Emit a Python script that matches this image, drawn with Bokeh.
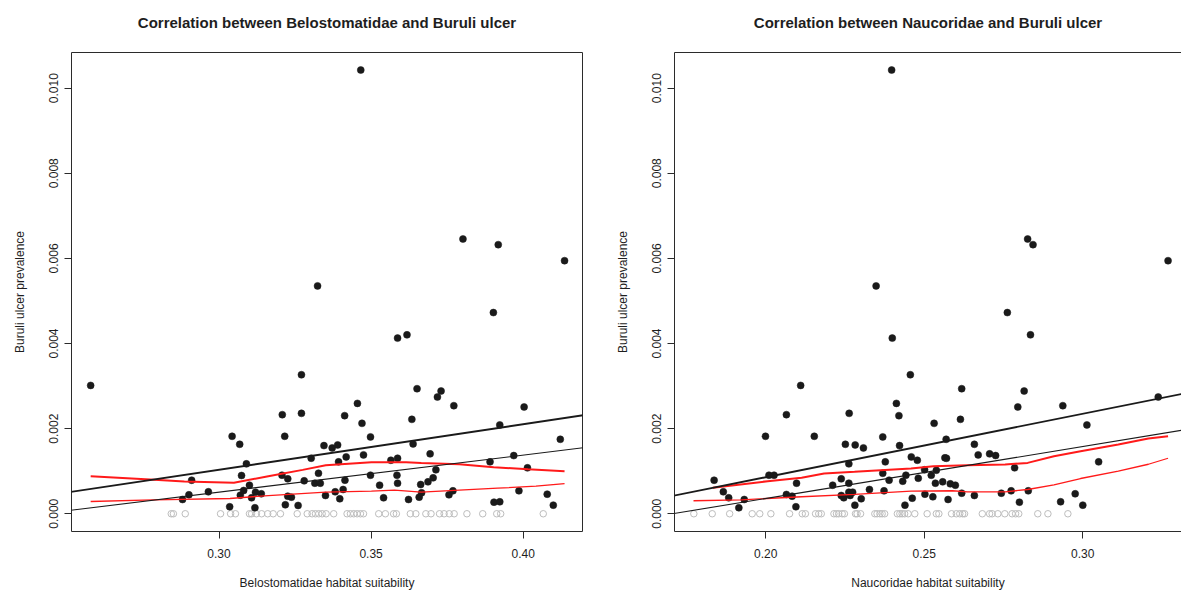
from bokeh.plotting import figure
from bokeh.layouts import row
from bokeh.models import (Range1d, LinearAxis, FixedTicker, NumeralTickFormatter, Slope)
from bokeh.embed import file_html
from bokeh.resources import INLINE

# ---------------- data: Belostomatidae panel ----------------
belo_pos_x = [0.2578, 0.3043, 0.3068, 0.3090, 0.3074, 0.2910, 0.2901, 0.2880, 0.2965, 0.3035,
              0.3070, 0.3081, 0.3100,
              0.3271, 0.3208, 0.3271, 0.3216, 0.3207, 0.3226, 0.3120, 0.3139, 0.3107, 0.3118,
              0.3226, 0.3238, 0.3218, 0.3260, 0.3280, 0.3303, 0.3315, 0.3333, 0.3327, 0.3345,
              0.3372, 0.3390, 0.3393, 0.3418, 0.3413, 0.3455, 0.3470, 0.3498, 0.3475, 0.3498,
              0.3414, 0.3382, 0.3408, 0.3397, 0.3350, 0.3528, 0.3541, 0.3587, 0.3618, 0.3651,
              0.3634, 0.3638, 0.3565, 0.3587, 0.3585, 0.3587, 0.3623, 0.3663, 0.3658, 0.3666,
              0.3902, 0.3730, 0.3718, 0.3772, 0.4003, 0.3923, 0.4122, 0.3694, 0.3969, 0.3891,
              0.4014, 0.3713, 0.3704, 0.3687, 0.3756, 0.3769, 0.3904, 0.3923, 0.3986, 0.4079,
              0.4099,
              0.3466, 0.3324, 0.3802, 0.3918, 0.4136]
belo_pos_y = [0.003015, 0.001820, 0.001632, 0.001172, 0.000898, 0.000788, 0.000445, 0.000335, 0.000516, 0.000164,
              0.000436, 0.000546, 0.000671,
              0.003266, 0.002328, 0.002359, 0.001820, 0.000905, 0.000820, 0.000507, 0.000469, 0.000375, 0.000141,
              0.000413, 0.000390, 0.000211, 0.000195, 0.000774, 0.001304, 0.000718, 0.000718, 0.000952, 0.001601,
              0.001547, 0.001617, 0.001219, 0.001336, 0.002305, 0.002593, 0.002124, 0.001805, 0.001383, 0.000905,
              0.000788, 0.000516, 0.000570, 0.000352, 0.000429, 0.000671, 0.000375, 0.004127, 0.004204, 0.002938,
              0.002218, 0.001641, 0.001257, 0.001304, 0.000905, 0.000718, 0.000335, 0.000687, 0.000390, 0.000492,
              0.004727, 0.002884, 0.002743, 0.002539, 0.002509, 0.002087, 0.001749, 0.001407, 0.001367, 0.001219,
              0.001079, 0.001032, 0.000844, 0.000750, 0.000445, 0.000539, 0.000272, 0.000281, 0.000539, 0.000460,
              0.000202,
              0.010425, 0.005353, 0.006455, 0.006322, 0.005946]
belo_zero_x = [0.2843, 0.2850, 0.2889, 0.3005, 0.3038, 0.3054, 0.3100, 0.3107, 0.3123, 0.3140,
               0.3160, 0.3178, 0.3202, 0.3257, 0.3290, 0.3306, 0.3317, 0.3328, 0.3339, 0.3352,
               0.3377, 0.3421, 0.3432, 0.3443, 0.3454, 0.3465, 0.3475, 0.3525, 0.3547, 0.3574,
               0.3583, 0.3629, 0.3647, 0.3680, 0.3697, 0.3725, 0.3740, 0.3757, 0.3773, 0.3815,
               0.3867, 0.3913, 0.3926, 0.4066]
belo_zero_y = [0.0] * len(belo_zero_x)
belo_upper_x = [0.2578, 0.2773, 0.2886, 0.3049, 0.3162, 0.3275, 0.3351, 0.3501, 0.3615, 0.3665, 0.3790, 0.3903, 0.4016, 0.4136]
belo_upper_y = [0.000882, 0.000804, 0.000757, 0.000726, 0.000882, 0.001031, 0.001140, 0.001210, 0.001210, 0.001195, 0.001164, 0.001094, 0.001047, 0.001000]
belo_lower_x = [0.2578, 0.2785, 0.3036, 0.3162, 0.3351, 0.3501, 0.3577, 0.3665, 0.3790, 0.3916, 0.4042, 0.4136]
belo_lower_y = [0.000288, 0.000327, 0.000358, 0.000428, 0.000507, 0.000530, 0.000554, 0.000507, 0.000554, 0.000600, 0.000648, 0.000710]
belo_gradient = [0.01069, 0.00871]
belo_intercept = [-0.002173, -0.002106]

# ---------------- data: Naucoridae panel ----------------
nauc_pos_x = [0.2110, 0.2065, 0.1999, 0.2153, 0.2263, 0.2251, 0.2262, 0.1837, 0.2010, 0.2026,
              0.1866, 0.1883, 0.1915, 0.1932, 0.2097, 0.2065, 0.2083, 0.2095, 0.2211, 0.2238,
              0.2262, 0.2238, 0.2246, 0.2262,
              0.2762, 0.2399, 0.2456, 0.2618, 0.2412, 0.2420, 0.2531, 0.2614, 0.2795, 0.2369,
              0.2282, 0.2308, 0.2422, 0.2569, 0.2658, 0.2377, 0.2459, 0.2478, 0.2565, 0.2570,
              0.2670, 0.2706, 0.2725, 0.2785, 0.2369, 0.2501, 0.2522, 0.2538, 0.2442, 0.2389,
              0.2432, 0.2481, 0.2535, 0.2558, 0.2582, 0.2598, 0.2327, 0.2373, 0.2274, 0.2266,
              0.2301, 0.2281, 0.2439, 0.2462, 0.2502, 0.2527, 0.2575, 0.2618, 0.2658, 0.2743,
              0.2774, 0.2800,
              0.2835, 0.2815, 0.2937, 0.3238, 0.3013, 0.3050, 0.2828, 0.2930, 0.2976, 0.3000,
              0.2397, 0.2348, 0.2826, 0.2843, 0.3269]
nauc_pos_y = [0.003015, 0.002328, 0.001820, 0.001820, 0.002359, 0.001632, 0.001172, 0.000788, 0.000905, 0.000905,
              0.000516, 0.000375, 0.000141, 0.000335, 0.000718, 0.000453, 0.000413, 0.000164, 0.000671, 0.000820,
              0.000718, 0.000429, 0.000375, 0.000507,
              0.004727, 0.004127, 0.003266, 0.002938, 0.002593, 0.002305, 0.002124, 0.002218, 0.002509, 0.001805,
              0.001617, 0.001547, 0.001601, 0.001749, 0.001632, 0.001219, 0.001336, 0.001257, 0.001313, 0.001304,
              0.001383, 0.001407, 0.001367, 0.001079, 0.000952, 0.001032, 0.000905, 0.001022, 0.000905, 0.000788,
              0.000765, 0.000835, 0.000718, 0.000750, 0.000703, 0.000671, 0.000570, 0.000539, 0.000507, 0.000429,
              0.000352, 0.000202, 0.000202, 0.000366, 0.000460, 0.000398, 0.000335, 0.000483, 0.000429, 0.000483,
              0.000539, 0.000272,
              0.004204, 0.002884, 0.002539, 0.002743, 0.002087, 0.001219, 0.000539, 0.000281, 0.000469, 0.000202,
              0.010425, 0.005353, 0.006455, 0.006322, 0.005946]
nauc_zero_x = [0.1773, 0.1831, 0.1886, 0.1957, 0.1981, 0.2016, 0.2075, 0.2115, 0.2125, 0.2157,
               0.2167, 0.2175, 0.2215, 0.2223, 0.2230, 0.2241, 0.2248,
               0.2283, 0.2288, 0.2299, 0.2344, 0.2351, 0.2360, 0.2367, 0.2375, 0.2415, 0.2423,
               0.2430, 0.2438, 0.2449, 0.2470, 0.2509, 0.2538, 0.2546, 0.2586, 0.2601, 0.2612,
               0.2621, 0.2627, 0.2683, 0.2706, 0.2714, 0.2732, 0.2754, 0.2777, 0.2788, 0.2798,
               0.2858, 0.2890, 0.2953]
nauc_zero_y = [0.0] * len(nauc_zero_x)
nauc_upper_x = [0.1833, 0.2006, 0.2113, 0.2184, 0.2280, 0.2458, 0.2529, 0.2636, 0.2755, 0.2826, 0.2909, 0.2993, 0.3112, 0.3207, 0.3269]
nauc_upper_y = [0.000610, 0.000765, 0.000844, 0.000945, 0.000985, 0.001062, 0.001116, 0.001140, 0.001156, 0.001195, 0.001351, 0.001468, 0.001625, 0.001766, 0.001820]
nauc_lower_x = [0.1772, 0.1923, 0.2113, 0.2280, 0.2458, 0.2589, 0.2636, 0.2755, 0.2826, 0.2909, 0.2993, 0.3112, 0.3207, 0.3269]
nauc_lower_y = [0.000305, 0.000328, 0.000399, 0.000453, 0.000530, 0.000540, 0.000516, 0.000516, 0.000570, 0.000680, 0.000828, 0.000999, 0.001163, 0.001304]
nauc_gradient = [0.01491, 0.01221]
nauc_intercept = [-0.002124, -0.002083]

y_ticks = [0.000, 0.002, 0.004, 0.006, 0.008, 0.010]
belo_x_ticks = [0.30, 0.35, 0.40]
nauc_x_ticks = [0.20, 0.25, 0.30]

FONT = "Liberation Sans"
BOX = "#2b2b2b"
TXT = "#1e1e1e"
Y_RANGE = (-0.000417, 0.010837)


def border_axis(label=None):
    ax = LinearAxis(ticker=FixedTicker(ticks=[]), axis_line_color=BOX, axis_line_width=1,
                    major_tick_out=0, major_tick_in=0, minor_tick_out=0, minor_tick_in=0,
                    major_label_text_font_size="0px", major_label_standoff=0)
    if label:
        ax.axis_label = label
        ax.axis_label_standoff = 22
        ax.axis_label_text_font = FONT
        ax.axis_label_text_font_style = "bold"
        ax.axis_label_text_font_size = "15px"
        ax.axis_label_text_color = TXT
    return ax


def make_panel(title, xlabel, xr, xticks, pos_x, pos_y, zero_x, zero_y,
               up_x, up_y, lo_x, lo_y, grads, icepts, width, mb_left, mb_right, right_border):
    p = figure(width=width, height=592, output_backend="svg", toolbar_location=None,
               x_range=Range1d(*xr), y_range=Range1d(*Y_RANGE),
               min_border_left=mb_left, min_border_right=mb_right,
               min_border_top=52, min_border_bottom=60,
               x_axis_label=xlabel, y_axis_label="Buruli ulcer prevalence")
    p.outline_line_color = None
    p.background_fill_color = "white"
    p.border_fill_color = "white"
    p.xgrid.visible = False
    p.ygrid.visible = False

    for ax in (p.xaxis[0], p.yaxis[0]):
        ax.axis_line_color = BOX
        ax.major_tick_line_color = BOX
        ax.major_tick_out = 7
        ax.major_tick_in = 0
        ax.minor_tick_out = 0
        ax.minor_tick_in = 0
        ax.major_label_text_font = FONT
        ax.major_label_text_font_size = "12px"
        ax.major_label_text_color = TXT
        ax.axis_label_text_font = FONT
        ax.axis_label_text_font_size = "12px"
        ax.axis_label_text_font_style = "normal"
        ax.axis_label_text_color = TXT

    p.xaxis.ticker = FixedTicker(ticks=xticks)
    p.xaxis.formatter = NumeralTickFormatter(format="0.00")
    p.xaxis.major_label_standoff = 10
    p.xaxis.axis_label_standoff = 15

    p.yaxis.ticker = FixedTicker(ticks=y_ticks)
    p.yaxis.formatter = NumeralTickFormatter(format="0.000")
    p.yaxis.major_label_orientation = "vertical"
    p.yaxis.major_label_standoff = 6
    p.yaxis.axis_label_standoff = 20

    # top border of the box, carrying the panel title
    p.add_layout(border_axis(title), "above")
    if right_border:
        p.add_layout(border_axis(), "right")

    p.scatter(zero_x, zero_y, size=6.5, marker="circle", fill_color=None,
              line_color="#bdbdbd", line_width=1)
    p.scatter(pos_x, pos_y, size=7, marker="circle", fill_color="#1a1a1a",
              line_color="#1a1a1a", line_width=0.5)

    p.add_layout(Slope(gradient=grads[0], y_intercept=icepts[0], line_color="#1a1a1a", line_width=1.9))
    p.add_layout(Slope(gradient=grads[1], y_intercept=icepts[1], line_color="#1a1a1a", line_width=1.1))

    p.line(up_x, up_y, line_color="#ff1a1a", line_width=2)
    p.line(lo_x, lo_y, line_color="#ff1a1a", line_width=1.3)
    return p


p1 = make_panel("Correlation between Belostomatidae and Buruli ulcer",
                "Belostomatidae habitat suitability", (0.2515, 0.4195), belo_x_ticks,
                belo_pos_x, belo_pos_y, belo_zero_x, belo_zero_y,
                belo_upper_x, belo_upper_y, belo_lower_x, belo_lower_y,
                belo_gradient, belo_intercept, 608, 71, 26, True)

p2 = make_panel("Correlation between Naucoridae and Buruli ulcer",
                "Naucoridae habitat suitability", (0.1712, 0.33114), nauc_x_ticks,
                nauc_pos_x, nauc_pos_y, nauc_zero_x, nauc_zero_y,
                nauc_upper_x, nauc_upper_y, nauc_lower_x, nauc_lower_y,
                nauc_gradient, nauc_intercept, 573, 66, 0, False)

layout = row(p1, p2)
open("out.html", "w").write(file_html(layout, INLINE))
